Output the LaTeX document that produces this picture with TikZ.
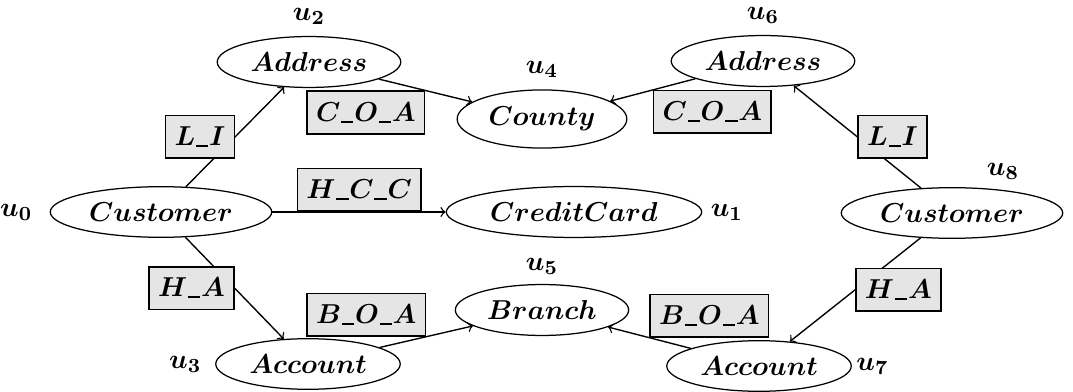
\documentclass[tikz,border=0pt]{standalone}
\usetikzlibrary{shapes.geometric}
% flat underscore used inside the relationship names
\newcommand{\ubar}{\kern0.03em\rule[-0.5pt]{0.45em}{0.8pt}\kern0.03em}
\begin{document}
\begin{tikzpicture}[x=0.4pt,y=-0.4pt,
  every node/.style={font=\fontsize{10.9}{13}\selectfont\bfseries\boldmath},
  entity/.style={ellipse,draw,line width=0.5pt,inner xsep=2.6pt,inner ysep=3.4pt},
  rel/.style={draw,line width=0.6pt,fill=gray!20,inner xsep=3.6pt,inner ysep=4.5pt},
  link/.style={->,line width=0.55pt},
  tag/.style={inner sep=0pt}]
\useasboundingbox (0,0) rectangle (1073,392);

% entity nodes
\node[entity] (n0) at (161,212) {$Customer$};
\node[entity] (n1) at (574,212) {$CreditCard$};
\node[entity] (n2) at (309,62)  {$Address$};
\node[entity] (n3) at (308,364) {$Account$};
\node[entity] (n4) at (542,119) {$County$};
\node[entity] (n5) at (542,310) {$Branch$};
\node[entity] (n6) at (763,61)  {$Address$};
\node[entity] (n7) at (759,366) {$Account$};
\node[entity] (n8) at (952,213) {$Customer$};

% vertex names
\node[tag,anchor=east]  (l0) at ([xshift=-6.7pt]n0.west) {$u_0$};
\node[tag,anchor=west]  (l1) at ([xshift=3.2pt]n1.east)  {$u_1$};
\node[tag,above=4.4pt]  (l2) at (n2.north) {$u_2$};
\node[tag,anchor=east]  (l3) at ([xshift=-5.3pt]n3.west) {$u_3$};
\node[tag,above=4.4pt]  (l4) at (n4.north) {$u_4$};
\node[tag,above=3.6pt]  (l5) at (n5.north) {$u_5$};
\node[tag,above=4.4pt]  (l6) at (n6.north) {$u_6$};
\node[tag,anchor=west]  (l7) at ([xshift=1.6pt]n7.east)  {$u_7$};
\node[tag]              (l8) at (1003,171) {$u_8$};

% relationships
\draw[link] (n0) -- node[rel,midway,left] (r02) {$L\ubar I$} (n2);
\draw[link] (n0) -- node[rel,midway,above] (r01) {$H\ubar C\ubar C$} (n1);
\draw[link] (n0) -- node[rel,midway,left] (r03) {$H\ubar A$} (n3);
\draw[link] (n2) -- node[rel,midway,below left] (r24) {$C\ubar O\ubar A$} (n4);
\draw[link] (n3) -- node[rel,midway,above left] (r35) {$B\ubar O\ubar A$} (n5);
\draw[link] (n6) -- node[rel,midway,below right] (r64) {$C\ubar O\ubar A$} (n4);
\draw[link] (n7) -- node[rel,midway,above right] (r75) {$B\ubar O\ubar A$} (n5);
\draw[link] (n8) -- node[rel,midway,right] (r86) {$L\ubar I$} (n6);
\draw[link] (n8) -- node[rel,midway,right] (r87) {$H\ubar A$} (n7);
\end{tikzpicture}
\end{document}
